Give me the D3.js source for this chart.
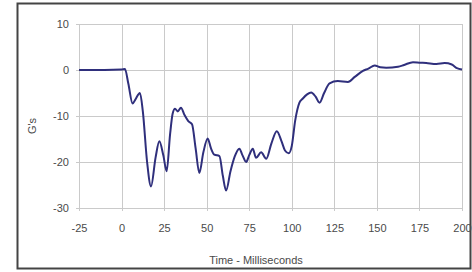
<!DOCTYPE html>
<html>
<head>
<meta charset="utf-8">
<script src="https://cdn.jsdelivr.net/npm/d3@7"></script>
<style>
  body { margin: 0; background: #fff; }
  text { font-family: "Liberation Sans", Arial, sans-serif; fill: #4a4a4a; }
</style>
</head>
<body>
<div id="chart"></div>
<script>
// time (ms) and acceleration (G's)
const times = [-25, -10, 0, 2, 4, 6.5, 8, 10.8, 12.5, 15, 17.3, 20, 22.2, 24.5, 26.5, 28.5, 30, 31.4, 33, 34.9,
  37, 39.2, 41.4, 43.5, 45.7, 48, 50.6, 52.5, 54.5, 57.5, 59.5, 61.4, 64, 66.5, 69.2, 71, 73.2, 75, 77.1, 79,
  82, 85, 88, 91.2, 94, 96, 98.2, 100, 102, 104.5, 106.5, 109, 111.4, 114, 116.3, 119, 122.2, 127, 133, 137,
  141.8, 145, 148.7, 152, 155.5, 162.4, 166, 171.2, 175, 179, 185, 189.8, 194, 197, 200];
const gees = [0, 0, 0.1, 0.2, -3, -7.3, -6.5, -5, -9, -20, -25.3, -19, -15.5, -18.5, -22, -14, -9.5, -8.4, -9, -8.2,
  -9.8, -11.1, -11.8, -17, -22.4, -18, -14.9, -17, -18.4, -18.7, -23, -26.2, -22, -18.8, -17.1, -18.5, -20, -18.5, -17.1, -19.1,
  -17.9, -19.3, -16, -13.3, -15.5, -17.5, -18.1, -16.5, -11, -7.1, -6.2, -5.3, -4.9, -5.8, -7.1, -5, -2.9, -2.4, -2.6, -1.5,
  -0.2, 0.3, 1.0, 0.6, 0.5, 0.7, 1.1, 1.7, 1.6, 1.5, 1.3, 1.5, 1.2, 0.4, 0.1];
const xTicks = [-25, 0, 25, 50, 75, 100, 125, 150, 175, 200];
const yTicks = [10, 0, -10, -20, -30];

const data = times.map(function(t, i) { return {t: t, g: gees[i]}; });

const W = 472, H = 272;
const margin = {top: 24, right: 10, bottom: 64, left: 79},
      width = 462 - margin.left,
      height = 208 - margin.top;

const svg = d3.select('#chart').append('svg')
    .attr('width', W)
    .attr('height', H);

// outer frame
svg.append('rect')
    .attr('x', 17.5).attr('y', 3.5)
    .attr('width', 453).attr('height', 265)
    .attr('fill', '#fff')
    .attr('stroke', '#444')
    .attr('stroke-width', 2);

const wrapper = svg.append('g')
    .attr('transform', 'translate(' + margin.left + ',' + margin.top + ')');

const xScale = d3.scaleLinear().domain([-25, 200]).range([0, width]),
      yScale = d3.scaleLinear().domain([-30, 10]).range([height, 0]);

// grid
wrapper.append('g')
    .selectAll('line.v')
    .data(xTicks)
  .enter().append('line')
    .attr('x1', d => Math.round(xScale(d)) + 0.5)
    .attr('x2', d => Math.round(xScale(d)) + 0.5)
    .attr('y1', 0).attr('y2', height + 3)
    .attr('stroke', '#cacaca');

wrapper.append('g')
    .selectAll('line.h')
    .data(yTicks)
  .enter().append('line')
    .attr('x1', -3).attr('x2', width)
    .attr('y1', d => Math.round(yScale(d)) + 0.5)
    .attr('y2', d => Math.round(yScale(d)) + 0.5)
    .attr('stroke', '#cacaca');

// plain hyphen minus, as in the original
const fmt = d => String(d);

const xAxis = wrapper.append('g')
    .attr('transform', 'translate(0,' + height + ')')
    .call(d3.axisBottom(xScale).tickValues(xTicks).tickFormat(fmt).tickSize(0).tickPadding(16));
const yAxis = wrapper.append('g')
    .call(d3.axisLeft(yScale).tickValues(yTicks).tickFormat(fmt).tickSize(0).tickPadding(10));

[xAxis, yAxis].forEach(function(a) {
  a.select('.domain').remove();
  a.selectAll('text')
      .style('font-family', '"Liberation Sans", Arial, sans-serif')
      .style('font-size', '11px')
      .attr('fill', '#4a4a4a');
});

svg.append('text')
    .attr('x', 256).attr('y', 264)
    .style('text-anchor', 'middle')
    .style('font-size', '11px')
    .text('Time - Milliseconds');

svg.append('text')
    .attr('transform', 'translate(36,126) rotate(-90)')
    .style('text-anchor', 'middle')
    .style('font-size', '11px')
    .text("G's");

const line = d3.line()
    .x(d => xScale(d.t))
    .y(d => yScale(d.g))
    .curve(d3.curveMonotoneX);

wrapper.append('path')
    .datum(data)
    .attr('fill', 'none')
    .attr('stroke', '#2f2f7c')
    .attr('stroke-width', 2)
    .attr('stroke-linejoin', 'round')
    .attr('d', line);
</script>
</body>
</html>
